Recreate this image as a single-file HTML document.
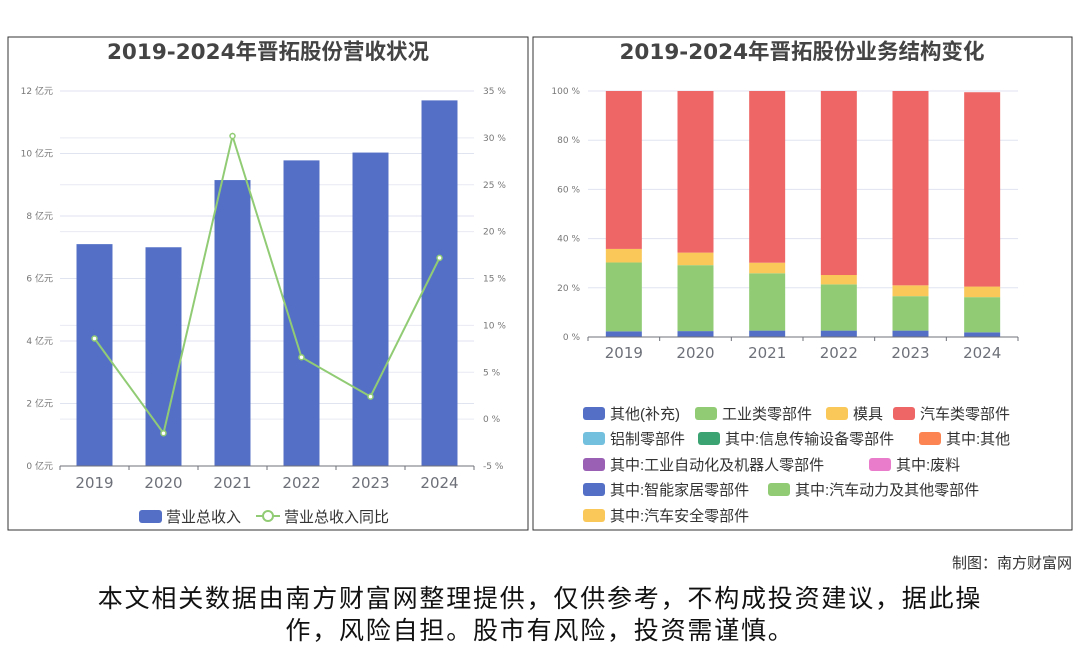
<!DOCTYPE html>
<html><head><meta charset="utf-8">
<style>
body{margin:0;width:1080px;height:646px;background:#fff;overflow:hidden;font-family:"Liberation Sans","Noto Sans CJK SC",sans-serif;}
svg{position:absolute;left:0;top:0}
</style></head>
<body>
<svg width="1080" height="646" viewBox="0 0 1080 646">
<rect x="8" y="37" width="520" height="493" fill="#fff" stroke="#333" stroke-width="1"/>
<rect x="533" y="37" width="539" height="493" fill="#fff" stroke="#333" stroke-width="1"/>
<text x="268" y="59" text-anchor="middle" font-size="21.5" font-weight="bold" fill="#444" font-family="DejaVu Sans,Noto Sans CJK SC,sans-serif">2019-2024年晋拓股份营收状况</text>
<text x="802" y="59" text-anchor="middle" font-size="21.5" font-weight="bold" fill="#444" font-family="DejaVu Sans,Noto Sans CJK SC,sans-serif">2019-2024年晋拓股份业务结构变化</text>
<g id="left"></g>
<g id="right"></g>
<text x="1072" y="568" text-anchor="end" font-size="15" fill="#333" font-family="Liberation Sans,Noto Sans CJK SC,sans-serif">制图：南方财富网</text>
<text x="540" y="607" text-anchor="middle" font-size="25" letter-spacing="1.8" fill="#111" font-family="Liberation Sans,Noto Sans CJK SC,sans-serif">本文相关数据由南方财富网整理提供，仅供参考，不构成投资建议，据此操</text>
<text x="540" y="639" text-anchor="middle" font-size="25" letter-spacing="1.8" fill="#111" font-family="Liberation Sans,Noto Sans CJK SC,sans-serif">作，风险自担。股市有风险，投资需谨慎。</text>
</svg>
<script>
const years=['2019','2020','2021','2022','2023','2024'];
const revenue=[7.1,7.0,9.15,9.78,10.03,11.7];
const growth=[8.6,-1.5,30.2,6.6,2.4,17.2];
const leftTicks=[0,2,4,6,8,10,12];
const rightTicks=[-5,0,5,10,15,20,25,30,35];
const shareOther=[2.3,2.4,2.6,2.6,2.6,1.9];
const shareIndustrial=[28.0,26.8,23.3,18.8,14.0,14.3];
const shareMold=[5.5,5.1,4.3,3.8,4.4,4.3];
const shareAuto=[64.2,65.7,69.8,74.8,79.0,79.0];
const pctTicks=[0,20,40,60,80,100];
const legendNames=['其他(补充)','工业类零部件','模具','汽车类零部件','铝制零部件','其中:信息传输设备零部件','其中:其他','其中:工业自动化及机器人零部件','其中:废料','其中:智能家居零部件','其中:汽车动力及其他零部件','其中:汽车安全零部件'];
const legendColors=['#5470c6','#91cc75','#fac858','#ee6666','#73c0de','#3ba272','#fc8452','#9a60b4','#ea7ccc','#5470c6','#91cc75','#fac858'];
const NS='http://www.w3.org/2000/svg';
function mk(p,t,a,txt){const e=document.createElementNS(NS,t);for(const k in a)e.setAttribute(k,a[k]);if(txt!=null)e.textContent=txt;p.appendChild(e);return e;}
const FF='DejaVu Sans,Noto Sans CJK SC,sans-serif';
const FL='Liberation Sans,Noto Sans CJK SC,sans-serif';
// left chart
const L=document.getElementById('left');
const lx0=60,lx1=474,ly0=466,ly1=91;
const yL=v=>ly0-(v/12)*(ly0-ly1);
const yR=v=>ly0-((v+5)/40)*(ly0-ly1);
const bw=(lx1-lx0)/years.length;
const xC=i=>lx0+bw*(i+0.5);
rightTicks.forEach(t=>{const g=mk(L,'line',{x1:lx0,x2:lx1,y1:yR(t),y2:yR(t),stroke:'#e8eaf3','stroke-width':1});

const tx=mk(L,'text',{x:483,y:yR(t)+3,'font-size':9,fill:'#777','font-family':FF},t+' %');
});
leftTicks.forEach(t=>{const g=mk(L,'line',{x1:lx0,x2:lx1,y1:yL(t),y2:yL(t),stroke:'#e0e3f0','stroke-width':1});

const tx=mk(L,'text',{x:53,y:yL(t)+3,'text-anchor':'end','font-size':9,fill:'#777','font-family':FF},t+' 亿元');
});
revenue.forEach((v,i)=>{const r=mk(L,'rect',{x:xC(i)-18,y:yL(v),width:36,height:ly0-yL(v),fill:'#5470c6'});
});
mk(L,'line',{x1:lx0,x2:lx1,y1:ly0,y2:ly0,stroke:'#6e7079'});
years.forEach((y,i)=>{mk(L,'line',{x1:lx0+bw*i,x2:lx0+bw*i,y1:ly0,y2:ly0+4,stroke:'#6e7079'});
const t=mk(L,'text',{x:xC(i),y:488,'text-anchor':'middle','font-size':15,fill:'#6e7079','font-family':FF},y);
});
mk(L,'line',{x1:lx1,x2:lx1,y1:ly0,y2:ly0+4,stroke:'#6e7079'});
const pl=mk(L,'polyline',{points:growth.map((v,i)=>xC(i)+','+yR(v)).join(' '),fill:'none',stroke:'#91cc75','stroke-width':2});

growth.forEach((v,i)=>{const c=mk(L,'circle',{cx:xC(i),cy:yR(v),r:2.5,fill:'#fff',stroke:'#91cc75','stroke-width':1.5});
});
const lg1=mk(L,'rect',{x:139,y:510,width:23,height:13,rx:3,fill:'#5470c6'});

mk(L,'text',{x:166,y:522,'font-size':15,fill:'#333','font-family':FL},'营业总收入');
mk(L,'line',{x1:256,x2:280,y1:516,y2:516,stroke:'#91cc75','stroke-width':2});
mk(L,'circle',{cx:268,cy:516,r:5,fill:'#fff',stroke:'#91cc75','stroke-width':2});
const lt=mk(L,'text',{x:284,y:522,'font-size':15,fill:'#333','font-family':FL},'营业总收入同比');

// right chart
const R=document.getElementById('right');
const rx0=588,rx1=1018,ry0=337,ry1=91;
const yP=v=>ry0-(v/100)*(ry0-ry1);
const rbw=(rx1-rx0)/years.length;
const xR=i=>rx0+rbw*(i+0.5);
pctTicks.forEach(t=>{const g=mk(R,'line',{x1:rx0,x2:rx1,y1:yP(t),y2:yP(t),stroke:'#e0e3f0'});

const tx=mk(R,'text',{x:580,y:yP(t)+3,'text-anchor':'end','font-size':9,fill:'#777','font-family':FF},t+' %');
});
const series=[shareOther,shareIndustrial,shareMold,shareAuto];
const sNames=['other','industrial','mold','auto'];
years.forEach((y,i)=>{let acc=0;series.forEach((s,k)=>{const v=s[i];const r=mk(R,'rect',{x:xR(i)-18,y:yP(acc+v),width:36,height:yP(acc)-yP(acc+v),fill:legendColors[k]});
acc+=v;});});
mk(R,'line',{x1:rx0,x2:rx1,y1:ry0,y2:ry0,stroke:'#6e7079'});
years.forEach((y,i)=>{mk(R,'line',{x1:rx0+rbw*i,x2:rx0+rbw*i,y1:ry0,y2:ry0+4,stroke:'#6e7079'});
const t=mk(R,'text',{x:xR(i),y:358,'text-anchor':'middle','font-size':15,fill:'#6e7079','font-family':FF},y);
});
mk(R,'line',{x1:rx1,x2:rx1,y1:ry0,y2:ry0+4,stroke:'#6e7079'});
const legPos=[[583,414],[695,414],[826,414],[893,414],[583,439],[698,439],[919,439],[583,465],[869,465],[583,490],[768,490],[583,516]];
legendNames.forEach((n,k)=>{const [x,y]=legPos[k];
const s=mk(R,'rect',{x:x,y:y-7,width:22,height:13,rx:3,fill:legendColors[k]});

const t=mk(R,'text',{x:x+27,y:y+5,'font-size':15,fill:'#333','font-family':FL},n);
});
</script>
</body></html>
